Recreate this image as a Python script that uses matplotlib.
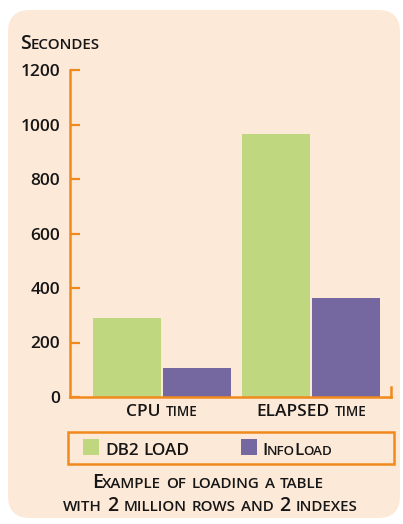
import numpy as np
import matplotlib
matplotlib.use("Agg")
import matplotlib.pyplot as plt
from matplotlib.patches import FancyBboxPatch, Rectangle
from matplotlib.offsetbox import TextArea, HPacker, DrawingArea, AnnotationBbox

# data
categories = ["CPU time", "ELAPSED time"]
series = ["DB2 LOAD", "InfoLoad"]
db2_load = [290, 965]
infoload = [105, 365]
yticks = [0, 200, 400, 600, 800, 1000, 1200]
ylabel = "Secondes"
caption = ["Example of loading a table", "with 2 million rows and 2 indexes"]

GREEN = "#bfd87f"
PURPLE = "#7568a0"
ORANGE = "#f08a1c"
PEACH = "#fde9d8"
INK = "#161616"
FONT = "Open Sans"
WEIGHT = "semibold"

W, H = 403, 524
fig = plt.figure(figsize=(W / 100, H / 100), dpi=100)
fig.patch.set_facecolor("white")

# background axes in pixel coords (y down)
bg = fig.add_axes([0, 0, 1, 1])
bg.set_xlim(0, W)
bg.set_ylim(H, 0)
bg.axis("off")
bg.add_patch(FancyBboxPatch((8, 10), 392, 508, boxstyle="round,pad=0,rounding_size=22",
                            fc=PEACH, ec="none"))


def small_caps(text, size, ratio=0.78, space=0.27, kern=0.03):
    boxes = []
    i = 0
    prev_word = False
    while i < len(text):
        ch = text[i]
        if ch == " ":
            boxes.append(DrawingArea(size * space, 1))
            prev_word = False
            i += 1
            continue
        low = ch.islower()
        j = i
        while j < len(text) and text[j] != " " and text[j].islower() == low:
            j += 1
        fs = size * ratio if low else size
        if prev_word:
            # pull runs inside one word a bit closer
            boxes.append(DrawingArea(-size * kern, 1))
        boxes.append(TextArea(text[i:j].upper(),
                              textprops=dict(fontsize=fs, family=FONT, color=INK,
                                             weight=WEIGHT)))
        prev_word = True
        i = j
    return HPacker(children=boxes, align="baseline", pad=0, sep=0)


def place(ax, text, xy, size, coords="data", align=(0.5, 0), **kw):
    ab = AnnotationBbox(small_caps(text, size, **kw), xy, xycoords=coords,
                        box_alignment=align, frameon=False, pad=0)
    ax.add_artist(ab)


# main chart
ax = fig.add_axes([70 / W, 127 / H, 321 / W, 327 / H])
ax.patch.set_alpha(0)
x = np.arange(len(categories))
w, off = 0.455, 0.234
ax.bar(x - off, db2_load, w, color=GREEN)
ax.bar(x + off, infoload, w, color=PURPLE)
ax.set_xlim(-0.615, 1.532)
ax.set_ylim(0, 1200)
for s in ["top", "right"]:
    ax.spines[s].set_visible(False)
for s in ["left", "bottom"]:
    ax.spines[s].set_color(ORANGE)
    ax.spines[s].set_linewidth(1.8)
ax.plot([1, 1], [0, 0.03], transform=ax.transAxes, color=ORANGE, lw=1.8, clip_on=False)
ax.set_yticks(yticks)
ax.tick_params(axis="y", direction="in", length=7, width=1.6, color=ORANGE,
               labelsize=12.5, pad=7, labelcolor=INK)
for lab in ax.get_yticklabels():
    lab.set_family(FONT)
    lab.set_weight(WEIGHT)
ax.set_xticks([])
for xi, cat in zip(x, categories):
    place(ax, cat, (xi, -0.07), 12.5, coords=ax.get_xaxis_transform())

# y label
place(bg, ylabel, (20, 54), 14, align=(0, 0))

# legend
bg.add_patch(Rectangle((68, 432), 326, 32, fill=False, ec=ORANGE, lw=1.8))
for (lx, tx), name, col in zip([(83, 105), (241, 262)], series, [GREEN, PURPLE]):
    bg.add_patch(Rectangle((lx, 439), 16, 16, fc=col, ec="none"))
    place(bg, name, (tx, 459), 12.3, align=(0, 0))

# caption
place(bg, caption[0], (208, 493), 14)
place(bg, caption[1], (210, 516), 14)

fig.savefig("out.png", dpi=100)
